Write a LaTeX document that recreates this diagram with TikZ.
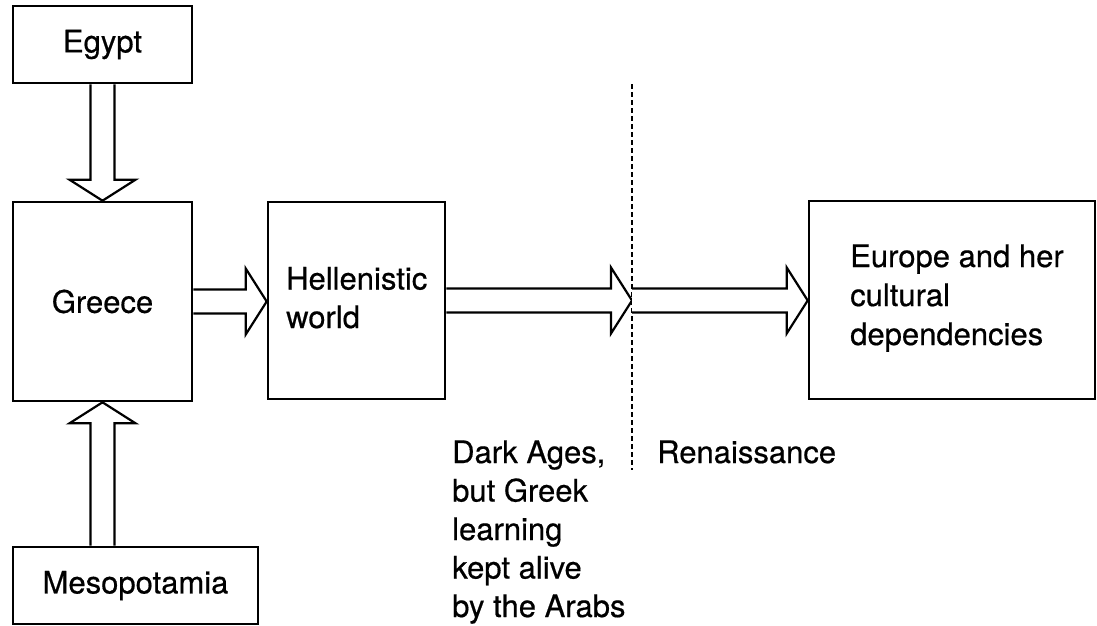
\documentclass[tikz,border=0pt]{standalone}
\usepackage{fontspec}
\setmainfont{TeX Gyre Heros}[FakeBold=0.5]
\usetikzlibrary{calc}
\tikzset{
  box/.style={draw, line width=2.6pt, inner sep=0pt, font=\fontsize{31}{38.5}\selectfont},
  lbl/.style={anchor=base west, align=left, inner sep=0pt, font=\fontsize{31}{38.5}\selectfont},
  arrowline/.style={draw, line width=2.2pt, line join=miter, fill=white},
  divider/.style={line width=1.6pt, dash pattern=on 5pt off 3pt}
}
\newcommand{\blockarrow}[2]{%
  \path[arrowline]
    ($(#1)!12pt!90:(#2)$) --
    ($($(#2)!21pt!(#1)$)!12pt!90:(#2)$) --
    ($($(#2)!21pt!(#1)$)!33pt!90:(#2)$) --
    (#2) --
    ($($(#2)!21pt!(#1)$)!33pt!-90:(#2)$) --
    ($($(#2)!21pt!(#1)$)!12pt!-90:(#2)$) --
    ($(#1)!12pt!-90:(#2)$);%
}
\begin{document}
\begin{tikzpicture}[x=1pt,y=-1pt]
\useasboundingbox[fill=white] (0,0) rectangle (1097,626);
% boxes
\node[box, minimum width=179pt, minimum height=77pt] (egypt) at (102.5,44.5) {Egypt};
\node[box, minimum width=179pt, minimum height=199pt] (greece) at (102.5,301.5) {Greece};
\node[box, minimum width=177pt, minimum height=197pt] (hell) at (356.5,300.5) {};
\node[box, minimum width=286pt, minimum height=198pt] (europe) at (952,300) {};
\node[box, minimum width=245pt, minimum height=77pt] (meso) at (135.5,585.5) {Mesopotamia};
% texts (base anchor = baseline of last line)
\node[lbl] (helltext) at (286,328) {Hellenistic\\world};
\node[lbl] (eurtext) at (850,345) {Europe and her\\[0.5pt]cultural\\[0.5pt]dependencies};
\node[lbl] (darktext) at (452,617) {Dark Ages,\\but Greek\\learning\\kept alive\\by the Arabs};
\node[lbl] (rentext) at (657,463) {Renaissance};
% divider
\coordinate (divtop) at (632,84);
\coordinate (divbot) at (632,470);
\draw[divider] (divtop) -- (divbot);
% arrows
\coordinate (mesotop) at (greece.south |- meso.north);
\coordinate (hellin) at (greece.east -| hell.west);
\coordinate (divpt) at (hell.east -| divtop);
\coordinate (eurin) at (divpt -| europe.west);
\blockarrow{egypt.south}{greece.north}
\blockarrow{mesotop}{greece.south}
\blockarrow{greece.east}{hellin}
\blockarrow{hell.east}{divpt}
\blockarrow{divpt}{eurin}
\end{tikzpicture}
\end{document}
